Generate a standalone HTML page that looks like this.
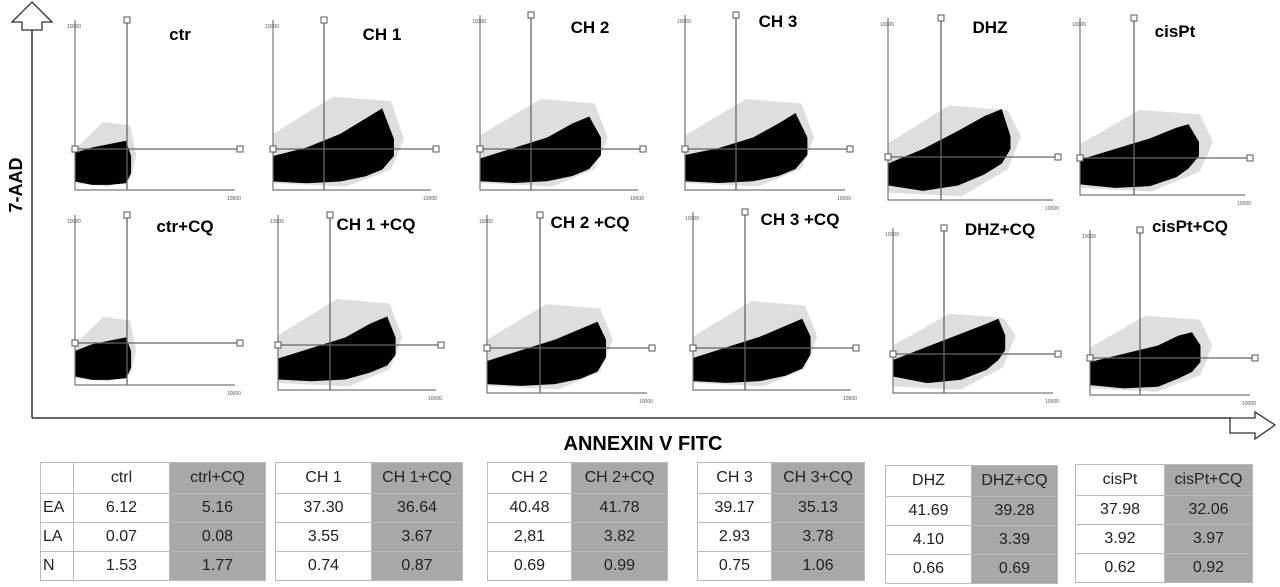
<!DOCTYPE html>
<html><head><meta charset="utf-8">
<style>
body{margin:0;background:#fff;width:1280px;height:587px;overflow:hidden;font-family:"Liberation Sans",sans-serif}
svg{position:absolute;left:0;top:0}
.tbl{position:absolute;border-collapse:collapse;font-family:"Liberation Sans",sans-serif;font-size:16px;color:#222}
.tbl td{border:1px solid #bbb;text-align:center;padding:0;height:28px}
.tbl tr:first-child td{height:30px}
.g{background:#a8a8a8}
</style></head><body>
<svg id="fig" width="1280" height="587"></svg>
<div id="tables"></div>
<script>
// data arrays
const panelNames=["ctr","CH 1","CH 2","CH 3","DHZ","cisPt","ctr+CQ","CH 1 +CQ","CH 2 +CQ","CH 3 +CQ","DHZ+CQ","cisPt+CQ"];
const coreX=[
[0,0.1,0.2,0.3,0.33],[0,0.2,0.4,0.55,0.65,0.72],[0,0.2,0.4,0.55,0.65,0.72],[0,0.2,0.4,0.55,0.65,0.72],[0,0.2,0.4,0.55,0.65,0.7],[0,0.2,0.4,0.55,0.62,0.68],
[0,0.1,0.2,0.3,0.33],[0,0.2,0.4,0.55,0.65,0.7],[0,0.2,0.4,0.55,0.65,0.7],[0,0.2,0.4,0.55,0.65,0.7],[0,0.2,0.4,0.55,0.62,0.66],[0,0.2,0.4,0.52,0.6,0.65]];
const coreTop=[
[0.22,0.25,0.27,0.29,0.2],[0.2,0.25,0.33,0.42,0.48,0.3],[0.18,0.24,0.3,0.38,0.42,0.3],[0.2,0.24,0.3,0.38,0.44,0.3],[0.2,0.28,0.38,0.46,0.5,0.35],[0.2,0.26,0.32,0.38,0.4,0.3],
[0.2,0.24,0.26,0.28,0.2],[0.18,0.24,0.3,0.38,0.42,0.3],[0.18,0.24,0.3,0.36,0.4,0.3],[0.18,0.24,0.3,0.36,0.4,0.3],[0.2,0.28,0.36,0.42,0.45,0.35],[0.2,0.25,0.3,0.36,0.38,0.3]];
const coreBot=[
[0.05,0.03,0.03,0.04,0.1],[0.05,0.04,0.05,0.08,0.12,0.2],[0.05,0.04,0.05,0.08,0.12,0.2],[0.05,0.04,0.05,0.08,0.12,0.2],[0.08,0.05,0.08,0.14,0.2,0.28],[0.06,0.04,0.05,0.1,0.15,0.22],
[0.05,0.03,0.03,0.04,0.1],[0.06,0.05,0.06,0.1,0.14,0.2],[0.05,0.04,0.05,0.08,0.12,0.2],[0.05,0.04,0.05,0.08,0.12,0.2],[0.1,0.06,0.08,0.14,0.2,0.26],[0.06,0.04,0.05,0.1,0.14,0.2]];
const haloTop=[0.4,0.55,0.52,0.52,0.52,0.48,0.4,0.52,0.5,0.5,0.48,0.48];
const haloRight=[0.36,0.78,0.76,0.76,0.76,0.76,0.36,0.74,0.74,0.74,0.72,0.72];
const rowLabels=["EA","LA","N"];
const groupHeads=[["ctrl","ctrl+CQ"],["CH 1","CH 1+CQ"],["CH 2","CH 2+CQ"],["CH 3","CH 3+CQ"],["DHZ","DHZ+CQ"],["cisPt","cisPt+CQ"]];
const valsEA=[["6.12","5.16"],["37.30","36.64"],["40.48","41.78"],["39.17","35.13"],["41.69","39.28"],["37.98","32.06"]];
const valsLA=[["0.07","0.08"],["3.55","3.67"],["2,81","3.82"],["2.93","3.78"],["4.10","3.39"],["3.92","3.97"]];
const valsN=[["1.53","1.77"],["0.74","0.87"],["0.69","0.99"],["0.75","1.06"],["0.66","0.69"],["0.62","0.92"]];

// layout
const geo=[[75,20,190,170,127,149,180,40],[273,20,190,168,324,149,382,40],[480,15,190,168,531,149,590,33],[685,15,190,170,736,149,778,27],[888,18,200,175,941,157,990,33],[1080,18,195,175,1134,158,1175,37],
[75,215,385,170,127,343,185,232],[278,215,390,168,330,345,376,230],[487,215,393,170,540,348,590,228],[693,212,390,168,745,348,800,225],[893,228,393,170,944,354,1000,235],[1090,230,395,170,1140,358,1190,232]];
const NS="http://www.w3.org/2000/svg";
const svg=document.getElementById('fig');
function mk(t,a,p){const e=document.createElementNS(NS,t);for(const k in a)e.setAttribute(k,a[k]);(p||svg).appendChild(e);return e;}
panelNames.forEach((nm,i)=>{
  const [x0,top,bot,w,qx,qy,tx,ty]=geo[i];const h=bot-top;
  const sx=f=>x0+f*w, sy=f=>bot-f*h;
  const g=mk('g',{});
  
  
  const cx=coreX[i],ct=coreTop[i],cb=coreBot[i];
  let hp=[[sx(0),sy(0.04)],[sx(0),sy(haloTop[i]*0.6)],[sx(cx[cx.length-1]*0.5),sy(haloTop[i])],[sx(haloRight[i]*0.9),sy(haloTop[i]*0.95)],[sx(haloRight[i]),sy(ct[ct.length-1])],[sx(haloRight[i]*0.9),sy(cb[cb.length-1]*0.6)],[sx(cx[cx.length-1]*0.6),sy(0.02)]];
  const halo=mk('polygon',{points:hp.map(p=>p.join(',')).join(' '),fill:'#000','fill-opacity':0.13},g);
  
  
  let pts=cx.map((x,j)=>sx(x)+','+sy(ct[j]));
  for(let j=cx.length-1;j>=0;j--)pts.push(sx(cx[j])+','+sy(cb[j]));
  const core=mk('polygon',{points:pts.join(' '),fill:'#000'},g);
  
  
  mk('polyline',{points:`${x0},${top} ${x0},${bot} ${x0+w-10},${bot}`,fill:'none',stroke:'#777','stroke-width':1.2},g);
  mk('line',{x1:qx,y1:top,x2:qx,y2:bot,stroke:'#666','stroke-width':1.3},g);
  mk('line',{x1:x0,y1:qy,x2:x0+w-5,y2:qy,stroke:'#666','stroke-width':1.3},g);
  [[qx,top],[x0,qy],[x0+w-5,qy]].forEach(p=>mk('rect',{x:p[0]-3,y:p[1]-3,width:6,height:6,fill:'#fff',stroke:'#555'},g));
  mk('text',{x:x0-8,y:top+8,'font-size':5,fill:'#555'},g).textContent='10000';
  mk('text',{x:x0+w-18,y:bot+10,'font-size':5,fill:'#555'},g).textContent='10000';
  const t=mk('text',{x:tx,y:ty,'font-size':17,'font-weight':'bold','text-anchor':'middle',fill:'#000'},g);t.textContent=nm;
  
  
});
const ax=mk('g',{});


mk('line',{x1:32,y1:30,x2:32,y2:418,stroke:'#333','stroke-width':1.5},ax);
mk('line',{x1:32,y1:418,x2:1232,y2:418,stroke:'#333','stroke-width':1.5},ax);
mk('polygon',{points:'32,2 52,22 42,22 42,30 22,30 22,22 12,22',fill:'#fff',stroke:'#333','stroke-width':1.3},ax);
mk('polygon',{points:'1275,425 1255,412 1255,418 1230,418 1230,433 1255,433 1255,439',fill:'#fff',stroke:'#333','stroke-width':1.3},ax);
const yl=mk('text',{x:22,y:185,'font-size':18,'font-weight':'bold','text-anchor':'middle',transform:'rotate(-90 22 185)'},ax);yl.textContent='7-AAD';


const xl=mk('text',{x:643,y:450,'font-size':20,'font-weight':'bold','text-anchor':'middle'},ax);xl.textContent='ANNEXIN V FITC';


const tpos=[[40,30,95,95,462],[275,0,95,90,462],[487,0,83,95,462],[697,0,73,92,462],[885,0,85,85,465],[1075,0,88,87,464]];
const host=document.getElementById('tables');
groupHeads.forEach((hd,i)=>{
  const [x,lw,w1,w2,y]=tpos[i];
  const tb=document.createElement('table');tb.className='tbl';tb.style.left=x+'px';tb.style.top=y+'px';
  
  
  const rows=[hd,valsEA[i],valsLA[i],valsN[i]];
  rows.forEach((r,ri)=>{
    const tr=document.createElement('tr');
    if(lw){const c=document.createElement('td');c.style.width=lw+'px';c.style.textAlign='left';c.style.paddingLeft='2px';c.textContent=ri?rowLabels[ri-1]:'';tr.appendChild(c);}
    [0,1].forEach(k=>{const c=document.createElement('td');c.style.width=(k?w2:w1)+'px';if(k)c.className='g';c.textContent=r[k];tr.appendChild(c);});
    tb.appendChild(tr);
  });
  host.appendChild(tb);
});
</script>
</body></html>
